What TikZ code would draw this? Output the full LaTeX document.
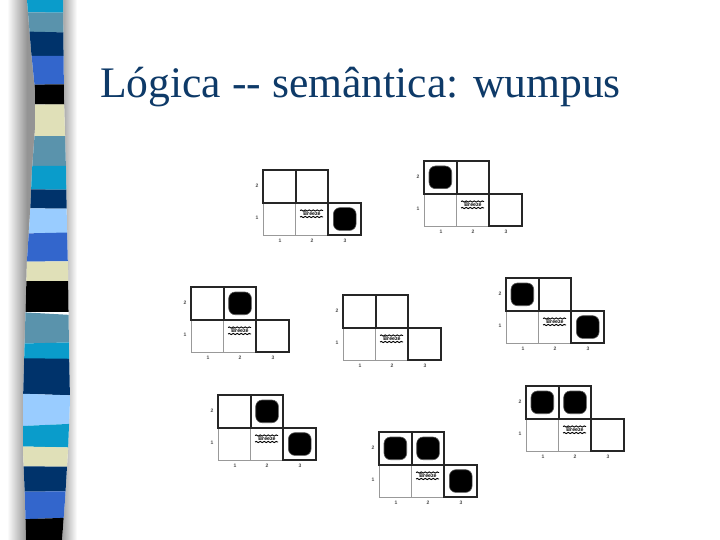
\documentclass[tikz,border=0pt]{standalone}
\usepackage{fontspec}
\usetikzlibrary{decorations.pathmorphing}
\newfontfamily\titlefont{Liberation Serif}
\newfontfamily\labelfont{Liberation Sans}
\definecolor{cCyan}{HTML}{0A9CCB}
\definecolor{cSteel}{HTML}{5A93AC}
\definecolor{cNavy}{HTML}{00336B}
\definecolor{cRoyal}{HTML}{3366CC}
\definecolor{cCream}{HTML}{E0E0B8}
\definecolor{cLight}{HTML}{99CCFF}
\definecolor{cTitle}{HTML}{0E3A68}
\tikzset{
  x=1pt,y=-1pt,
  heavy/.style={draw=black!85,line width=1.9pt},
  faint/.style={draw=black!40,line width=1pt},
  pitmark/.style={fill=black,draw=black!65,line width=.6pt,rounded corners=6.5pt},
  gridlabel/.style={font=\labelfont\bfseries\fontsize{5}{5}\selectfont,text=black!70,inner sep=0pt},
  breezetext/.style={font=\labelfont\bfseries\fontsize{5.2}{5.2}\selectfont,text=black,inner sep=0pt},
  snakeline/.style={draw=black,line width=.9pt,decorate,decoration={snake,amplitude=.6pt,segment length=4pt}},
}
% #1 x, #2 y, #3 name, #4 top-left pit, #5 top-middle pit, #6 lower-right pit
\newcommand{\wumpusgrid}[6]{%
  \begin{scope}[shift={(#1,#2)}]
    \draw[faint] (0,32.7) -- (0,65.4) -- (65.4,65.4);
    \draw[faint] (32.7,32.7) -- (32.7,65.4);
    \draw[heavy] (0,32.7) rectangle (32.7,0);
    \draw[heavy] (32.7,32.7) rectangle (65.4,0);
    \draw[heavy] (65.4,32.7) rectangle (98.1,65.4);
    \ifnum#4=1 \fill[pitmark] (5,5) rectangle (27.7,27.7);\fi
    \ifnum#5=1 \fill[pitmark] (37.7,5) rectangle (60.4,27.7);\fi
    \ifnum#6=1 \fill[pitmark] (70.4,37.7) rectangle (93.1,60.4);\fi
    \draw[snakeline] (37,40.5) -- (60,40.5);
    \draw[snakeline] (37,47) -- (60,47);
    \node[breezetext] (#3b) at (49,44) {Breeze};
    \node[gridlabel] (#3r) at (-6,16) {2};
    \node[gridlabel] (#3s) at (-6,48) {1};
    \node[gridlabel] (#3a) at (17,71) {1};
    \node[gridlabel] (#3c) at (49,71) {2};
    \node[gridlabel] (#3d) at (82,71) {3};
  \end{scope}}
\newcommand{\wband}[5]{\fill[#5] (0,#1) -- (90,#2) -- (90,#4) -- (0,#3) -- cycle;}
\begin{document}
\begin{tikzpicture}
\useasboundingbox (0,0) rectangle (720,540);
\fill[white] (0,0) rectangle (720,540);
% sidebar shadows
\shade[left color=white,right color=black!42] (7,0) rectangle (27,540);
\shade[left color=black!42,right color=white] (60,0) rectangle (77,540);
\fill[black!42] (26.5,0) -- (45,0) -- (45,540) -- (26.5,540) -- cycle;
\shade[left color=white,right color=black!42] (7,300) rectangle (27,540);
\begin{scope}
\clip (27,0) -- (31,50) -- (35,90) -- (35,130) -- (32,170) -- (30,215) -- (27,260)
      -- (25,330) -- (23,400) -- (23,450) -- (25,500) -- (26,540)
      -- (62,540) -- (65,500) -- (68,450) -- (70,400) -- (69,350) -- (68,270)
      -- (67,230) -- (66,170) -- (64,100) -- (63,0) -- cycle;
\fill[white] (0,0) rectangle (90,540);
\wband{-1}{-1}{12}{13}{cCyan}
\wband{12}{13}{32}{33}{cSteel}
\wband{31}{33}{56}{56}{cNavy}
\wband{56}{56}{85}{84}{cRoyal}
\wband{85}{84}{104}{105}{black}
\wband{105}{104}{136}{136}{cCream}
\wband{136}{136}{166}{166}{cSteel}
\wband{166}{166}{189}{190}{cCyan}
\wband{189}{190}{208}{209}{cNavy}
\wband{208}{209}{233}{233}{cLight}
\wband{234}{232}{262}{261}{cRoyal}
\wband{262}{261}{281}{281}{cCream}
\wband{281}{281}{312}{312}{black}
\wband{311}{316}{344}{342}{cSteel}
\wband{344}{342}{359}{359}{cCyan}
\wband{358}{359}{393}{396}{cNavy}
\wband{393}{396}{427}{423}{cLight}
\wband{427}{423}{446}{448}{cCyan}
\wband{446}{448}{466}{467}{cCream}
\wband{466}{467}{492}{491}{cNavy}
\wband{492}{491}{520}{517}{cRoyal}
\wband{520}{517}{541}{541}{black}
\end{scope}
% title
\node[anchor=base west,inner sep=0pt,text=cTitle,font=\titlefont\fontsize{43.6}{44}\selectfont] (title) at (100,98) {Lógica -{}- semântica: wumpus};
% worlds
\wumpusgrid{263}{170}{ga}{0}{0}{1}
\wumpusgrid{424}{161}{gb}{1}{0}{0}
\wumpusgrid{191}{287}{gc}{0}{1}{0}
\wumpusgrid{343}{295}{gd}{0}{0}{0}
\wumpusgrid{506}{278}{ge}{1}{0}{1}
\wumpusgrid{218}{395}{gf}{0}{1}{1}
\wumpusgrid{379}{432}{gg}{1}{1}{1}
\wumpusgrid{526}{386}{gh}{1}{1}{0}
\end{tikzpicture}
\end{document}
